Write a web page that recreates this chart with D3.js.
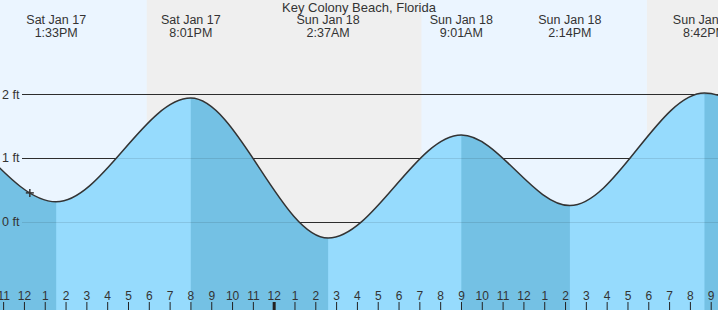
<!DOCTYPE html>
<html>
<head>
<meta charset="utf-8">
<script src="https://cdn.jsdelivr.net/npm/d3@7"></script>
<style>
body { margin: 0; background: #fff; }
svg { display: block; font-family: "Liberation Sans", Arial, sans-serif; }
</style>
</head>
<body>
<svg id="chart"></svg>
<script>
var W = 718, H = 310; // canvas size
var gridLeft = 22;    // where the ft lines start

// Tide extremes. The first two and the last are off the picture, they only shape the curve ends
var tideDates = ["Sat Jan 17", "Sat Jan 17", "Sat Jan 17", "Sat Jan 17", "Sun Jan 18", "Sun Jan 18", "Sun Jan 18", "Sun Jan 18", "Mon Jan 19"];
var tideTimes = ["12:50AM", "6:40AM", "1:33PM", "8:01PM", "2:37AM", "9:01AM", "2:14PM", "8:42PM", "3:15AM"];
var tideFeet = [0.10, 1.85, 0.31, 1.94, -0.26, 1.36, 0.25, 2.02, -0.35];

// Sunset / sunrise (night shading)
var nightStarts = ["Sat Jan 17 5:54PM", "Sun Jan 18 5:56PM"];
var nightEnds = ["Sun Jan 18 7:06AM", "Mon Jan 19 7:06AM"];

var yTicks = [0, 1, 2];
var stationName = "Key Colony Beach, Florida";

// The "+" marker (current time)
var nowStamp = "Sat Jan 17 12:17PM";
var nowFeet = 0.45;

var viewStart = "Sat Jan 17 10:51AM";
var viewEnd = "Sun Jan 18 9:21PM";

// "Sat Jan 17 1:33PM" -> Date
var parseStamp = d3.timeParse("%a %b %d %Y %I:%M%p");
function when(stamp) {
  var p = stamp.split(" ");
  return parseStamp(p[0] + " " + p[1] + " " + p[2] + " 2026 " + p[3]);
}

var tides = tideFeet.map(function(v, i) {
  return { t: when(tideDates[i] + " " + tideTimes[i]), v: v, date: tideDates[i], time: tideTimes[i] };
});

var x = d3.scaleTime().domain([when(viewStart), when(viewEnd)]).range([0, W]);
var y = d3.scaleLinear().domain([0, 2]).range([221.5, 94.3]);

function crisp(v) { return Math.round(y(v)) + 0.5; }

var svg = d3.select("#chart").attr("width", W).attr("height", H);

// Day background, then nights on top
svg.append("rect").attr("width", W).attr("height", H).attr("fill", "#ebf5ff");
svg.append("g").selectAll("rect").data(nightStarts).enter().append("rect")
  .attr("x", function(d) { return x(when(d)); })
  .attr("width", function(d, i) { return x(when(nightEnds[i])) - x(when(d)); })
  .attr("y", 0).attr("height", H)
  .attr("fill", "#efefef");

// ft lines
svg.append("g").selectAll("line").data(yTicks).enter().append("line")
  .attr("x1", gridLeft).attr("x2", W)
  .attr("y1", crisp).attr("y2", crisp)
  .attr("stroke", "#333").attr("stroke-width", 1);

// Tide curve (monotone keeps flat tops at each extreme)
var area = d3.area().curve(d3.curveMonotoneX)
  .x(function(d) { return x(d.t); })
  .y0(H)
  .y1(function(d) { return y(d.v); });
var line = d3.line().curve(d3.curveMonotoneX)
  .x(function(d) { return x(d.t); })
  .y(function(d) { return y(d.v); });

// Falling stretches are drawn darker
var falling = [];
for (var i = 0; i < tides.length - 1; i++) {
  if (tides[i + 1].v < tides[i].v) falling.push([tides[i].t, tides[i + 1].t]);
}
svg.append("clipPath").attr("id", "fallClip")
  .selectAll("rect").data(falling).enter().append("rect")
  .attr("x", function(d) { return x(d[0]); })
  .attr("width", function(d) { return x(d[1]) - x(d[0]); })
  .attr("y", 0).attr("height", H);

svg.append("path").datum(tides).attr("d", area).attr("fill", "#96dbfd");
svg.append("path").datum(tides).attr("d", area).attr("fill", "#74c1e4")
  .attr("clip-path", "url(#fallClip)");

// faint ft lines showing through the water
svg.append("g").selectAll("line").data(yTicks).enter().append("line")
  .attr("x1", gridLeft).attr("x2", W)
  .attr("y1", crisp).attr("y2", crisp)
  .attr("stroke", "#000").attr("stroke-opacity", 0.1);

svg.append("path").datum(tides).attr("d", line)
  .attr("fill", "none").attr("stroke", "#333").attr("stroke-width", 1.5);

// ft labels
svg.append("g").selectAll("text").data(yTicks).enter().append("text")
  .attr("x", 2).attr("y", function(d) { return y(d); }).attr("dy", "0.35em")
  .attr("font-size", 12.5).attr("fill", "#333")
  .text(function(d) { return d + " ft"; });

// Title + extreme labels (only the extremes inside the view)
svg.append("text").attr("x", W / 2).attr("y", 12)
  .attr("text-anchor", "middle").attr("font-size", 13).attr("fill", "#333")
  .text(stationName);

var shown = tides.filter(function(d) { return x(d.t) >= 0 && x(d.t) <= W; });
var heads = svg.append("g").selectAll("g").data(shown).enter().append("g")
  .attr("transform", function(d) { return "translate(" + x(d.t) + ",0)"; });
heads.append("text").attr("y", 24).attr("text-anchor", "middle")
  .attr("font-size", 12.5).attr("fill", "#333")
  .text(function(d) { return d.date; });
heads.append("text").attr("y", 36.5).attr("text-anchor", "middle")
  .attr("font-size", 12.5).attr("fill", "#333")
  .text(function(d) { return d.time; });

// Hour axis along the bottom
var xAxis = d3.axisBottom(x)
  .ticks(d3.timeHour.every(1))
  .tickFormat(d3.timeFormat("%-I"))
  .tickSize(8)
  .tickSizeOuter(0);
var ax = svg.append("g").attr("transform", "translate(0,302)").call(xAxis);
ax.select(".domain").remove();
ax.selectAll(".tick line").attr("stroke", "#222")
  .attr("stroke-width", function(d) { return d.getHours() === 0 ? 3 : 1; });
ax.selectAll(".tick text").attr("y", -2).attr("dy", 0)
  .attr("font-size", 12).attr("fill", "#333")
  .attr("font-family", "\"Liberation Sans\", Arial, sans-serif");

// "+" marker
var nx = x(when(nowStamp)), ny = y(nowFeet);
var plus = svg.append("g").attr("stroke", "#333").attr("stroke-width", 1.5);
plus.append("line").attr("x1", nx - 4).attr("x2", nx + 4).attr("y1", ny).attr("y2", ny);
plus.append("line").attr("x1", nx).attr("x2", nx).attr("y1", ny - 4).attr("y2", ny + 4);
</script>
</body>
</html>
